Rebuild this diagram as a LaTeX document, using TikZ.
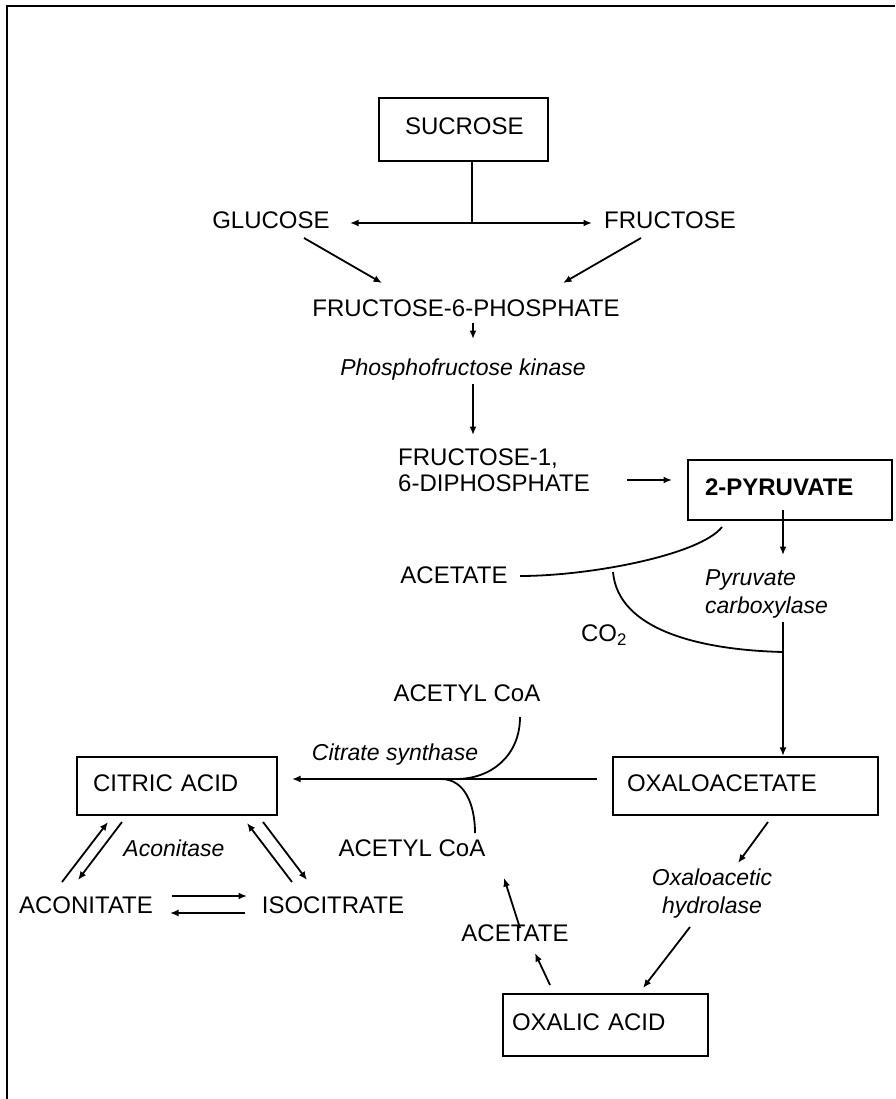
\documentclass[tikz,border=0pt]{standalone}
\usepackage{fontspec}
\setmainfont{Liberation Sans}
\usetikzlibrary{arrows.meta}
\begin{document}
\begin{tikzpicture}[x=1pt,y=-1pt,
  lbl/.style={inner sep=0pt, font=\fontsize{24}{26}\selectfont},
  enz/.style={inner sep=0pt, font=\fontsize{23}{28}\selectfont\itshape},
  box/.style={draw, line width=2.2pt, inner ysep=0pt, align=left, text depth=6pt, font=\fontsize{24}{26}\selectfont},
  arr/.style={line width=1.8pt, -{Latex[length=8.5pt,width=7pt]}},
  ln/.style={line width=1.8pt}]
\useasboundingbox (0,0) rectangle (895,1099);
\fill[white] (0,0) rectangle (895,1099);
% frame
\coordinate (ftl) at (7,6); \coordinate (ftr) at (895,6); \coordinate (fbl) at (7,1099);
\draw[line width=2.2pt] (ftr) -- (ftl) -- (fbl);

% boxes
\node[box, inner xsep=26pt, text width=117pt, minimum height=63pt] (sucrose) at (463.5,129.5) {SUCROSE};
\node[box, inner xsep=17pt, text width=170pt, minimum height=60pt, font=\fontsize{24}{26}\selectfont\bfseries] (pyr) at (790,490) {2-PYRUVATE};
\node[box, inner xsep=16pt, text width=168pt, minimum height=58pt] (citric) at (177,786) {CITRIC ACID};
\node[box, inner xsep=14pt, text width=237pt, minimum height=58pt] (oxalo) at (745.5,786) {OXALOACETATE};
\node[box, inner xsep=9pt, text width=187pt, minimum height=62pt] (oxalic) at (605.5,1025) {OXALIC ACID};

% labels
\node[lbl, anchor=base] (glucose) at (271,228.5) {GLUCOSE};
\node[lbl, anchor=base] (fructose) at (670,228.5) {FRUCTOSE};
\node[lbl, anchor=base] (f6p) at (466,316.5) {FRUCTOSE-6-PHOSPHATE};
\node[enz, anchor=base] (pfk) at (463,375.5) {Phosphofructose kinase};
\node[lbl, anchor=north west, align=left] (f16) at (398,448.5) {FRUCTOSE-1,\\6-DIPHOSPHATE};
\node[lbl, anchor=base] (acetate1) at (454,583.5) {ACETATE};
\node[enz, anchor=north west, align=left] (pyrcarb) at (705,569.5) {Pyruvate\\carboxylase};
\node[lbl, anchor=base] (co2) at (604,641.5) {CO\textsubscript{2}};
\node[lbl, anchor=base] (acetyl1) at (467,701.5) {ACETYL CoA};
\node[enz, anchor=base] (citsyn) at (395,760) {Citrate synthase};
\node[lbl, anchor=base] (acetyl2) at (412,856.5) {ACETYL CoA};
\node[enz, anchor=base] (aconitase) at (174,856) {Aconitase};
\node[lbl, anchor=base] (aconitate) at (86,913.5) {ACONITATE};
\node[lbl, anchor=base] (isocitrate) at (333,913.5) {ISOCITRATE};
\node[lbl, anchor=base] (acetate2) at (515,941.5) {ACETATE};
\node[enz, anchor=north, align=center] (oxhyd) at (712,868.5) {Oxaloacetic\\hydrolase};

% connector end points
\coordinate (split) at (472,223);
\coordinate (glin) at (350,223);
\coordinate (frin) at (592,223);
\coordinate (g1) at (304,238); \coordinate (g2) at (382,283);
\coordinate (fr1) at (641,238); \coordinate (fr2) at (563,283);
\coordinate (p1) at (473,323); \coordinate (p2) at (473,339);
\coordinate (p3) at (473,384); \coordinate (p4) at (473,435);
\coordinate (d1) at (627,480); \coordinate (d2) at (672,480);
\coordinate (c0) at (783,510); \coordinate (c1) at (783,555);
\coordinate (c2) at (783,622);
\coordinate (ac1) at (520,576); \coordinate (ac2) at (722,527);
\coordinate (co1) at (613,572); \coordinate (co2e) at (783,652);
\coordinate (h1) at (597,779); \coordinate (h2) at (292,779);
\coordinate (u1) at (520,717); \coordinate (u2) at (456,779);
\coordinate (l1) at (441,779); \coordinate (l2) at (475,833);
\coordinate (ca1) at (62,882); \coordinate (ca2) at (108,822);
\coordinate (ca3) at (122,822); \coordinate (ca4) at (78,880);
\coordinate (ci1) at (292,882); \coordinate (ci2) at (247,823);
\coordinate (ci3) at (263,822); \coordinate (ci4) at (307,880);
\coordinate (e1) at (172,896); \coordinate (e2) at (247,896);
\coordinate (e3) at (245,913); \coordinate (e4) at (170,913);
\coordinate (o1) at (768,822); \coordinate (o2) at (738,863);
\coordinate (o3) at (690,927); \coordinate (o4) at (643,988);
\coordinate (x1) at (550,985); \coordinate (x2) at (535,953);
\coordinate (a1) at (520,928); \coordinate (a2) at (504,878);

% connectors
\draw[ln] (sucrose.south -| split) -- (split);
\draw[arr] (split) -- (glin);
\draw[arr] (split) -- (frin);
\draw[arr] (g1) -- (g2);
\draw[arr] (fr1) -- (fr2);
\draw[arr] (p1) -- (p2);
\draw[arr] (p3) -- (p4);
\draw[arr] (d1) -- (d2);
\draw[arr] (c0) -- (c1);
\draw[arr] (c2) -- (oxalo.north -| c2);
\draw[ln] (ac1) .. controls (590,576) and (700,555) .. (ac2);
\draw[ln] (co1) .. controls (618,630) and (700,650) .. (co2e);
\draw[arr] (h1) -- (h2);
\draw[ln] (u1) .. controls (520,755) and (492,779) .. (u2);
\draw[ln] (l1) .. controls (465,779) and (475,805) .. (l2);
\draw[arr] (ca1) -- (ca2);
\draw[arr] (ca3) -- (ca4);
\draw[arr] (ci1) -- (ci2);
\draw[arr] (ci3) -- (ci4);
\draw[arr] (e1) -- (e2);
\draw[arr] (e3) -- (e4);
\draw[arr] (o1) -- (o2);
\draw[arr] (o3) -- (o4);
\draw[arr] (x1) -- (x2);
\draw[arr] (a1) -- (a2);
\end{tikzpicture}
\end{document}
